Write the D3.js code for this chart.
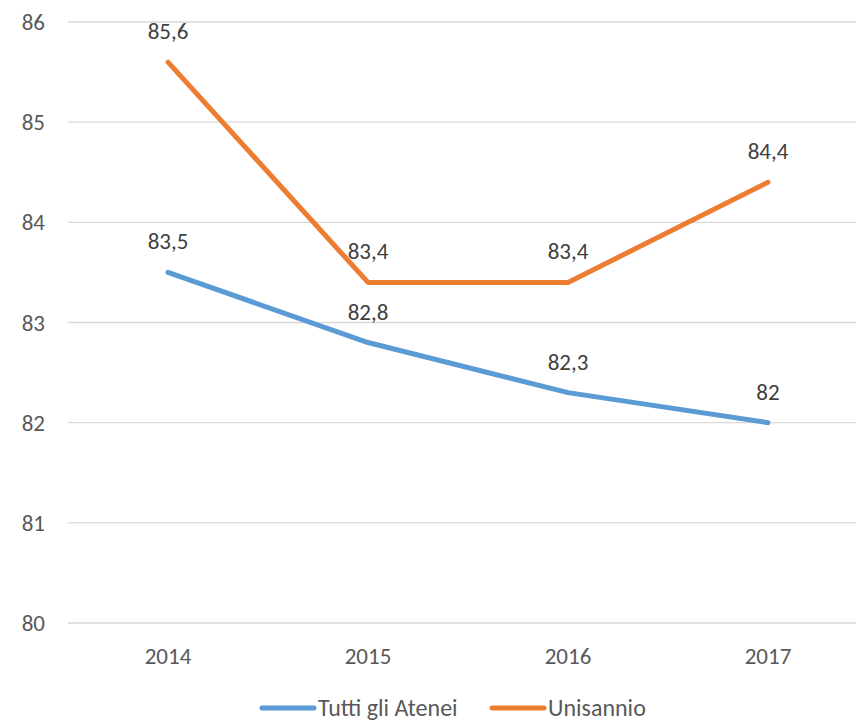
<!DOCTYPE html>
<html><head><meta charset="utf-8">
<script src="https://cdn.jsdelivr.net/npm/d3@7"></script>
<style>body{margin:0;background:#fff}svg{display:block}</style>
</head><body>
<svg id="c" width="856" height="721"></svg>
<script>
const years = ["2014","2015","2016","2017"];
const tuttiGliAtenei = [83.5, 82.8, 82.3, 82];
const unisannio = [85.6, 83.4, 83.4, 84.4];
const yTicks = [80,81,82,83,84,85,86];
const seriesNames = ["Tutti gli Atenei","Unisannio"];
const colors = ["#5b9bd5","#ed7d31"];

const svg = d3.select("#c");
const font = "Calibri, Carlito, Lato, sans-serif";
const fs = "23px";
const x = d3.scalePoint().domain(years).range([168,768]);
const y = d3.scaleLinear().domain([80,86]).range([623,22]);
const left = 68, right = 868;

const g = svg.append("g");
g.selectAll("line.grid").data(yTicks).join("line")
  .attr("x1",left).attr("x2",right)
  .attr("y1",d=>y(d)).attr("y2",d=>y(d))
  .attr("stroke","#d9d9d9").attr("stroke-width",1.3);

g.selectAll("text.yl").data(yTicks).join("text")
  .attr("x",45).attr("y",d=>y(d)).attr("dy","0.35em")
  .attr("text-anchor","end").attr("fill","#595959")
  .style("font-family",font).style("font-size",fs).text(d=>d);

g.selectAll("text.xl").data(years).join("text")
  .attr("x",d=>x(d)).attr("y",656).attr("dy","0.35em")
  .attr("text-anchor","middle").attr("fill","#595959")
  .style("font-family",font).style("font-size",fs).text(d=>d);

const series = [tuttiGliAtenei, unisannio];
const line = d3.line().x((d,i)=>x(years[i])).y(d=>y(d));
series.forEach((s,k)=>{
  g.append("path").attr("d",line(s)).attr("fill","none")
   .attr("stroke",colors[k]).attr("stroke-width",5)
   .attr("stroke-linecap","round").attr("stroke-linejoin","round");
});
series.forEach((s,k)=>{
  g.selectAll(null).data(s).join("text")
   .attr("x",(d,i)=>x(years[i])).attr("y",d=>y(d)-31).attr("dy","0.35em")
   .attr("text-anchor","middle").attr("fill","#404040")
   .style("font-family",font).style("font-size",fs)
   .text(d=>String(d).replace(".",","));
});

const legX = [262, 492];
seriesNames.forEach((n,k)=>{
  g.append("line").attr("x1",legX[k]).attr("x2",legX[k]+52)
   .attr("y1",708).attr("y2",708).attr("stroke",colors[k])
   .attr("stroke-width",5).attr("stroke-linecap","round");
  g.append("text").attr("x",legX[k]+56).attr("y",708).attr("dy","0.35em")
   .attr("fill","#595959").style("font-family",font).style("font-size","24px").text(n);
});
</script>
</body></html>
